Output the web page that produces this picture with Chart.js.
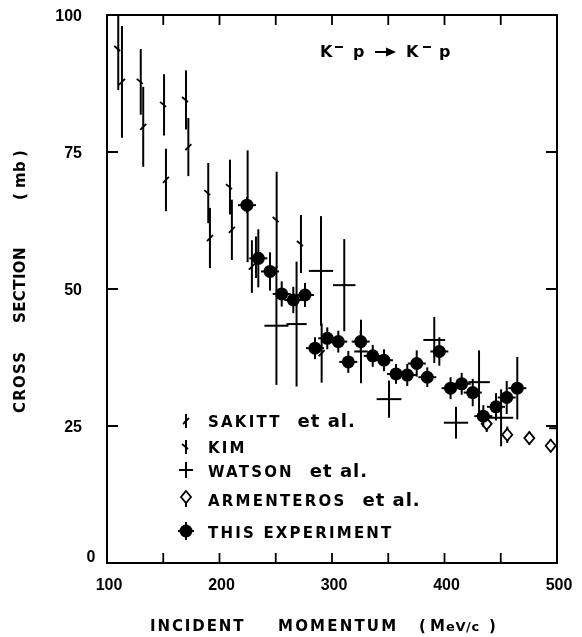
<!DOCTYPE html>
<html>
<head>
<meta charset="utf-8">
<script src="https://cdn.jsdelivr.net/npm/chart.js@4.4.0/dist/chart.umd.min.js"></script>
<style>
  body { margin: 0; background: #fff; }
  canvas { display: block; }
</style>
</head>
<body>
<canvas id="chart" width="582" height="637"></canvas>
<script>
// K- p elastic cross section vs incident momentum

// ticks
const xTicks = [100, 150, 200, 250, 300, 350, 400, 450, 500];
const xLabels = [100, 200, 300, 400, 500];
const yTicks = [0, 25, 50, 75, 100];

// SAKITT et al.
const sakittX = [113.3, 132.2, 152.4, 172.3, 191.5, 211, 228.8, 232.4, 290.8];
const sakittY = [87.8, 79.6, 69.9, 75.9, 59.3, 60.8, 54.1, 55.8, 38.3];
const sakittErr = [10.2, 7.3, 5.7, 5.3, 5.5, 5.5, 4.8, 3.8, 5.4];

// KIM
const kimX = [110, 130, 150.7, 170.2, 190, 209.3, 225, 250.8, 272.4];
const kimY = [93.8, 87.8, 83.6, 84.5, 67.5, 68.6, 65.1, 62.6, 58.2];
const kimErr = [7.5, 6, 5.6, 5.4, 5.5, 5, 10.2, 8.8, 5.3];

// WATSON et al.
const watsonX = [250.6, 268.5, 290.2, 310.9, 325.8, 350.7, 390.9, 410.2, 430.7, 450.3, 503];
const watsonY = [43.3, 43.6, 53.3, 50.7, 38.6, 29.9, 40.7, 25.6, 33.0, 26.5, 24.6];
const watsonXErr = [10.7, 9, 10.8, 10, 6, 11, 9.7, 10.8, 9.6, 10.8, 10];
const watsonYErr = [10.8, 11.4, 10, 8.4, 5.8, 3.4, 4.2, 2.9, 5.8, 5.2, 3];

// ARMENTEROS et al.
const armX = [437.5, 455.8, 475.4, 494.4];
const armY = [25.4, 23.4, 22.8, 21.4];
const armErr = [1.5, 1.5, 1.2, 1.2];

// THIS EXPERIMENT
const expX = [224.4, 234.5, 244.9, 255.3, 265.6, 276, 284.9, 295.8, 305.6, 314.5, 325.5, 336.2, 346.2,
              356.9, 366.9, 375.3, 384.7, 395.4, 405.4, 415.3, 425.1, 434.5, 445.8, 455.3, 464.7];
const expY = [65.3, 55.6, 53.2, 49.1, 48.0, 48.9, 39.2, 41.0, 40.4, 36.7, 40.4, 37.8, 37.0,
              34.5, 34.3, 36.4, 33.9, 38.6, 31.9, 32.7, 31.1, 26.8, 28.5, 30.2, 31.9];
const expErr = [1.5, 5.3, 3.5, 2.3, 2.4, 2.2, 2, 2, 2, 2, 2, 2, 2,
                1.8, 2, 2.4, 1.8, 2.6, 2, 2, 2.5, 2, 2.5, 3, 5.7];
const expXErr = 8;

function pts(xs, ys, yErr, xErr) {
    return xs.map((x, i) => ({
        x: x, y: ys[i],
        yErr: yErr[i],
        xErr: Array.isArray(xErr) ? xErr[i] : (xErr || 0)
    }));
}

// marker drawing helpers
function drawSlash(c, x, y, back) {
    c.beginPath();
    if (back) { c.moveTo(x - 4, y - 3); c.lineTo(x + 2, y + 2); }
    else { c.moveTo(x - 3, y + 3); c.lineTo(x + 3, y - 3); }
    c.stroke();
}
function drawDiamond(c, x, y) {
    c.beginPath();
    c.moveTo(x, y - 6); c.lineTo(x + 5, y); c.lineTo(x, y + 6); c.lineTo(x - 5, y);
    c.closePath();
    c.fillStyle = '#fff';
    c.fill();
    c.stroke();
    c.fillStyle = '#000';
}
function drawBlob(c, x, y) {
    c.beginPath();
    c.arc(x, y, 6.5, 0, Math.PI * 2);
    c.fillStyle = '#000';
    c.fill();
}

const errorBars = {
    id: 'errorBars',
    afterDatasetsDraw(chart) {
        const c = chart.ctx;
        const xs = chart.scales.x, ys = chart.scales.y;
        const area = chart.chartArea;
        c.save();
        c.beginPath();
        c.rect(area.left, area.top, area.right - area.left, area.bottom - area.top);
        c.clip();
        c.strokeStyle = '#000';
        c.lineCap = 'butt';
        chart.data.datasets.forEach((ds, i) => {
            const meta = chart.getDatasetMeta(i);
            meta.data.forEach((el, j) => {
                const raw = ds.data[j];
                const px = el.x, py = el.y;
                c.lineWidth = 2;
                // vertical error
                c.beginPath();
                c.moveTo(px, ys.getPixelForValue(raw.y + raw.yErr));
                c.lineTo(px, ys.getPixelForValue(raw.y - raw.yErr));
                c.stroke();
                if (raw.xErr) {
                    c.beginPath();
                    c.moveTo(xs.getPixelForValue(raw.x - raw.xErr), py);
                    c.lineTo(xs.getPixelForValue(raw.x + raw.xErr), py);
                    c.stroke();
                }
                c.lineWidth = 1.8;
                if (ds.marker === 'kim') drawSlash(c, px, py, true);
                else if (ds.marker === 'sakitt') drawSlash(c, px, py, false);
                else if (ds.marker === 'diamond') drawDiamond(c, px, py);
                else if (ds.marker === 'blob') drawBlob(c, px, py);
            });
        });
        c.restore();
    }
};

function spacedText(c, text, x, y, spacing) {
    c.fillStyle = '#000';
    c.letterSpacing = spacing + 'px';
    c.fillText(text, x, y);
    const w = c.measureText(text).width;
    c.letterSpacing = '0px';
    return w;
}

const frameAndText = {
    id: 'frameAndText',
    afterDraw(chart) {
        const c = chart.ctx;
        const xs = chart.scales.x, ys = chart.scales.y;
        const a = chart.chartArea;
        c.save();
        c.strokeStyle = '#000';
        c.fillStyle = '#000';
        c.lineWidth = 2;
        c.strokeRect(a.left, a.top, a.right - a.left, a.bottom - a.top);

        // inward ticks
        c.lineWidth = 1.8;
        xTicks.forEach(v => {
            const px = xs.getPixelForValue(v);
            c.beginPath();
            c.moveTo(px, a.bottom); c.lineTo(px, a.bottom - 10);
            c.moveTo(px, a.top); c.lineTo(px, a.top + 10);
            c.stroke();
        });
        yTicks.forEach(v => {
            const py = ys.getPixelForValue(v);
            c.beginPath();
            c.moveTo(a.left, py); c.lineTo(a.left + 11, py);
            c.moveTo(a.right, py); c.lineTo(a.right - 11, py);
            c.stroke();
        });

        // tick labels
        c.font = 'bold 16px "Liberation Sans"';
        c.textBaseline = 'middle';
        c.textAlign = 'center';
        xLabels.forEach(v => {
            c.fillText(String(v), xs.getPixelForValue(v) + 2, a.bottom + 23);
        });
        yTicks.forEach(v => {
            const py = ys.getPixelForValue(v);
            if (v === 0) {
                c.textAlign = 'center';
                c.fillText('0', a.left - 16, py - 5);
            } else {
                c.textAlign = 'right';
                c.fillText(String(v), a.left - 25, py + 2);
            }
        });

        // axis titles
        c.font = 'bold 15px "DejaVu Sans"';
        c.textAlign = 'left';
        c.textBaseline = 'alphabetic';
        spacedText(c, 'INCIDENT', 150, 631, 1.9);
        spacedText(c, 'MOMENTUM', 278, 631, 2.2);
        spacedText(c, '(', 419, 631, 0);
        spacedText(c, 'M', 430, 631, 0);
        c.font = 'bold 13px "DejaVu Sans"';
        spacedText(c, 'eV/c', 446, 631, 0.6);
        c.font = 'bold 15px "DejaVu Sans"';
        spacedText(c, ')', 489, 631, 0);

        c.save();
        c.translate(25, 413);
        c.rotate(-Math.PI / 2);
        c.font = 'bold 15px "DejaVu Sans"';
        spacedText(c, 'CROSS', 0, 0, 1.2);
        spacedText(c, 'SECTION', 90, 0, 0.4);
        spacedText(c, '(', 213, 0, 0);
        spacedText(c, 'mb', 225, 0, 0.3);
        spacedText(c, ')', 256, 0, 0);
        c.restore();

        // reaction label
        c.font = 'bold 16px "DejaVu Sans"';
        c.fillText('K', 320, 57);
        c.fillText('p', 353, 57);
        c.fillText('K', 406, 57);
        c.fillText('p', 439, 57);
        c.lineWidth = 1.8;
        c.beginPath();
        c.moveTo(335, 47); c.lineTo(343, 47);
        c.moveTo(423, 47); c.lineTo(431, 47);
        c.moveTo(375, 52); c.lineTo(388, 52);
        c.stroke();
        c.beginPath();
        c.moveTo(396, 52); c.lineTo(386, 47.5); c.lineTo(386, 56.5);
        c.closePath();
        c.fill();

        // legend
        const ix = 186, tx = 208;
        const rows = [
            { name: 'SAKITT', etal: true, base: 427, cy: 421 },
            { name: 'KIM', etal: false, base: 453, cy: 447 },
            { name: 'WATSON', etal: true, base: 477, cy: 470 },
            { name: 'ARMENTEROS', etal: true, base: 506, cy: 497 },
            { name: 'THIS EXPERIMENT', etal: false, base: 538, cy: 531 }
        ];
        rows.forEach((r, k) => {
            c.font = 'bold 15px "DejaVu Sans"';
            const w = spacedText(c, r.name, tx, r.base, 2.2);
            if (r.etal) {
                c.font = 'bold 18px "DejaVu Sans"';
                spacedText(c, 'et al.', tx + w + 16, r.base, 1);
            }
            c.lineWidth = 2;
            if (k === 0 || k === 1) {
                c.beginPath();
                c.moveTo(ix, r.cy - 7); c.lineTo(ix, r.cy + 7);
                c.stroke();
                c.lineWidth = 1.8;
                drawSlash(c, ix, r.cy, k === 1);
            } else if (k === 2) {
                c.beginPath();
                c.moveTo(ix - 7, r.cy); c.lineTo(ix + 7, r.cy);
                c.moveTo(ix, r.cy - 8); c.lineTo(ix, r.cy + 8);
                c.stroke();
            } else if (k === 3) {
                c.beginPath();
                c.moveTo(ix, r.cy); c.lineTo(ix, r.cy + 10);
                c.stroke();
                c.lineWidth = 1.8;
                drawDiamond(c, ix, r.cy);
            } else {
                c.beginPath();
                c.moveTo(ix - 8, r.cy); c.lineTo(ix + 8, r.cy);
                c.moveTo(ix, r.cy - 9); c.lineTo(ix, r.cy + 9);
                c.stroke();
                drawBlob(c, ix, r.cy);
            }
        });
        c.restore();
    }
};

const ctx = document.getElementById('chart').getContext('2d');
new Chart(ctx, {
    type: 'scatter',
    data: {
        datasets: [
            { label: 'SAKITT et al.', marker: 'sakitt', data: pts(sakittX, sakittY, sakittErr, 0) },
            { label: 'KIM', marker: 'kim', data: pts(kimX, kimY, kimErr, 0) },
            { label: 'WATSON et al.', marker: 'cross', data: pts(watsonX, watsonY, watsonYErr, watsonXErr) },
            { label: 'ARMENTEROS et al.', marker: 'diamond', data: pts(armX, armY, armErr, 0) },
            { label: 'THIS EXPERIMENT', marker: 'blob', data: pts(expX, expY, expErr, expXErr) }
        ]
    },
    options: {
        responsive: false,
        animation: false,
        elements: { point: { radius: 0, hoverRadius: 0 } },
        layout: { padding: { left: 107, right: 25, top: 15, bottom: 74 } },
        scales: {
            x: { type: 'linear', min: 100, max: 500, display: false },
            y: { type: 'linear', min: 0, max: 100, display: false }
        },
        plugins: {
            legend: { display: false },
            tooltip: { enabled: false }
        }
    },
    plugins: [errorBars, frameAndText]
});
</script>
</body>
</html>
